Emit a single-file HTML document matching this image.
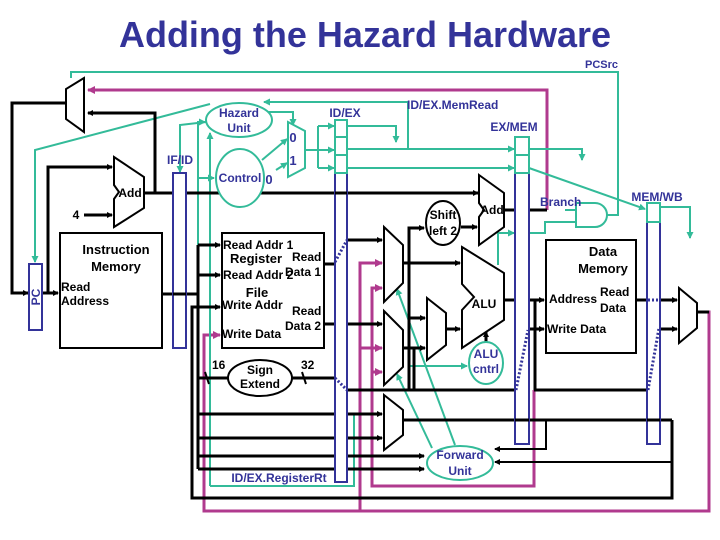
<!DOCTYPE html>
<html><head><meta charset="utf-8"><style>
html,body{margin:0;padding:0;background:#fff}
svg{display:block}
text{font-family:"Liberation Sans",Arial,sans-serif}
.b{fill:#333399;font-weight:bold;font-size:12px}
.k{fill:#000;font-weight:bold;font-size:12px}
.blk{stroke:#000;stroke-width:3;fill:none}
.tl{stroke:#33bb99;stroke-width:2;fill:none}
.mg{stroke:#b03a8e;stroke-width:3;fill:none}
.reg{fill:#fff;stroke:#333399;stroke-width:2}
.dot{stroke:#333399;stroke-width:3;stroke-dasharray:2 2;fill:none}
</style></head><body>
<svg width="720" height="540" viewBox="0 0 720 540" xmlns="http://www.w3.org/2000/svg">
<defs>
<marker id="ak" markerWidth="6" markerHeight="6" refX="5" refY="3" orient="auto" markerUnits="userSpaceOnUse"><path d="M0,0 L6,3 L0,6 z" fill="#000"/></marker>
<marker id="at" markerWidth="7" markerHeight="7" refX="6" refY="3.5" orient="auto" markerUnits="userSpaceOnUse"><path d="M0,0 L7,3.5 L0,7 z" fill="#33bb99"/></marker>
<marker id="am" markerWidth="8" markerHeight="8" refX="7" refY="4" orient="auto" markerUnits="userSpaceOnUse"><path d="M0,0 L8,4 L0,8 z" fill="#b03a8e"/></marker>
</defs>
<text x="365" y="47" text-anchor="middle" style="font-size:36px;font-weight:bold;fill:#333399">Adding the Hazard Hardware</text>
<text class="b" x="585" y="68" style="font-size:11px">PCSrc</text>

<!-- magenta loops -->
<polyline class="mg" points="547,210 547,90 88,90" marker-end="url(#am)"/>
<polyline class="mg" points="697,312 709,312 709,511 204,511 204,335 220,335" marker-end="url(#am)"/>
<polyline class="mg" points="360,511 360,263 382,263" marker-end="url(#am)"/>
<line class="mg" x1="360" y1="348" x2="382" y2="348" marker-end="url(#am)"/>
<polyline class="mg" points="534,390 534,486 372,486 372,288 382,288" marker-end="url(#am)"/>
<line class="mg" x1="372" y1="372" x2="382" y2="372" marker-end="url(#am)"/>

<!-- teal top -->
<polyline class="tl" points="71,78 71,72 618,72 618,215 607,215"/>
<polyline class="tl" points="408,149 408,102 264,102" marker-end="url(#at)"/>
<polyline class="tl" points="210,104 35,150 35,262" marker-end="url(#at)"/>
<polyline class="tl" points="206,122 180,125 180,172" marker-end="url(#at)"/>
<polyline class="tl" points="198,245 198,122 205,122" marker-end="url(#at)"/>
<line class="tl" x1="198" y1="178" x2="214" y2="178" marker-end="url(#at)"/>
<polyline class="tl" points="210,486 210,133" marker-end="url(#at)"/>
<polyline class="tl" points="210,486 354,486 354,414"/>
<polyline class="tl" points="268,112 293,112 293,125" marker-end="url(#at)"/>
<line class="tl" x1="262" y1="160" x2="287" y2="139" marker-end="url(#at)"/>
<line class="tl" x1="276" y1="170" x2="287" y2="163" marker-end="url(#at)"/>
<polyline class="tl" points="305,150 318,150"/>
<line class="tl" x1="318" y1="126" x2="318" y2="168"/>
<line class="tl" x1="318" y1="126" x2="334" y2="126" marker-end="url(#at)"/>
<line class="tl" x1="318" y1="150" x2="334" y2="150" marker-end="url(#at)"/>
<line class="tl" x1="318" y1="168" x2="334" y2="168" marker-end="url(#at)"/>
<polyline class="tl" points="347,126 396,126 396,142" marker-end="url(#at)"/>
<line class="tl" x1="347" y1="149" x2="514" y2="149" marker-end="url(#at)"/>
<line class="tl" x1="347" y1="168" x2="514" y2="168" marker-end="url(#at)"/>
<polyline class="tl" points="529,149 582,149 582,160" marker-end="url(#at)"/>
<line class="tl" x1="529" y1="168" x2="645" y2="209" marker-end="url(#at)"/>
<polyline class="tl" points="660,207 690,207 690,238" marker-end="url(#at)"/>
<line class="tl" x1="565" y1="210" x2="576" y2="210"/>
<polyline class="tl" points="529,233 545,233 545,222 576,222"/>
<polyline class="tl" points="498,265 498,233 514,233" marker-end="url(#at)"/>
<line class="tl" x1="408" y1="366" x2="467" y2="366" marker-end="url(#at)"/>
<line class="tl" x1="455" y1="445" x2="397" y2="289" marker-end="url(#at)"/>
<line class="tl" x1="432" y1="448" x2="397" y2="374" marker-end="url(#at)"/>

<!-- black wiring -->
<polyline class="blk" points="66,103 12,103 12,293 28,293" marker-end="url(#ak)"/>
<line class="blk" x1="43" y1="293" x2="58" y2="293" marker-end="url(#ak)"/>
<polyline class="blk" points="48,293 48,167 112,167" marker-end="url(#ak)"/>
<line class="blk" x1="84" y1="215" x2="112" y2="215" marker-end="url(#ak)"/>
<line class="blk" x1="144" y1="193" x2="478" y2="193" marker-end="url(#ak)"/>
<polyline class="blk" points="155,193 155,113 88,113" marker-end="url(#ak)"/>
<line class="blk" x1="162" y1="294" x2="198" y2="294"/>
<line class="blk" x1="198" y1="245" x2="198" y2="469"/>
<line class="blk" x1="198" y1="245" x2="220" y2="245" marker-end="url(#ak)"/>
<line class="blk" x1="198" y1="275" x2="220" y2="275" marker-end="url(#ak)"/>
<polyline class="blk" points="672,420 672,498 192,498 192,307 220,307" marker-end="url(#ak)"/>
<line class="blk" x1="198" y1="378" x2="228" y2="378"/>
<line class="blk" x1="292" y1="378" x2="335" y2="378"/>
<line class="blk" x1="205" y1="372" x2="209" y2="384" style="stroke-width:2"/>
<line class="blk" x1="302" y1="372" x2="306" y2="384" style="stroke-width:2"/>
<line class="blk" x1="198" y1="414" x2="382" y2="414" marker-end="url(#ak)"/>
<line class="blk" x1="198" y1="438" x2="382" y2="438" marker-end="url(#ak)"/>
<line class="blk" x1="198" y1="456" x2="424" y2="456" marker-end="url(#ak)"/>
<line class="blk" x1="198" y1="469" x2="424" y2="469" marker-end="url(#ak)"/>
<line class="blk" x1="324" y1="264" x2="335" y2="264"/>
<line class="blk" x1="324" y1="324" x2="335" y2="324"/>
<line class="blk" x1="347" y1="240" x2="382" y2="240" marker-end="url(#ak)"/>
<line class="blk" x1="347" y1="324" x2="382" y2="324" marker-end="url(#ak)"/>
<line class="blk" x1="347" y1="390" x2="515" y2="390"/>
<line class="blk" x1="403" y1="263" x2="460" y2="263" marker-end="url(#ak)"/>
<line class="blk" x1="403" y1="348" x2="425" y2="348" marker-end="url(#ak)"/>
<polyline class="blk" points="414,390 414,348"/>
<polyline class="blk" points="409,390 409,228 424,228" marker-end="url(#ak)"/>
<line class="blk" x1="409" y1="318" x2="425" y2="318" marker-end="url(#ak)"/>
<line class="blk" x1="461" y1="227" x2="477" y2="227" marker-end="url(#ak)"/>
<line class="blk" x1="446" y1="329" x2="460" y2="329" marker-end="url(#ak)"/>
<line class="blk" x1="486" y1="344" x2="486" y2="332" marker-end="url(#ak)"/>
<line class="blk" x1="504" y1="210" x2="515" y2="210"/>
<line class="blk" x1="529" y1="210" x2="547" y2="210"/>
<line class="blk" x1="504" y1="300" x2="515" y2="300"/>
<polyline class="blk" points="529,300 544,300" marker-end="url(#ak)"/>
<line class="blk" x1="535" y1="300" x2="535" y2="390"/>
<line class="blk" x1="529" y1="329" x2="544" y2="329" marker-end="url(#ak)"/>
<line class="blk" x1="534" y1="390" x2="648" y2="390"/>
<line class="blk" x1="636" y1="300" x2="647" y2="300"/>
<line class="blk" x1="660" y1="300" x2="677" y2="300" marker-end="url(#ak)"/>
<line class="blk" x1="660" y1="329" x2="677" y2="329" marker-end="url(#ak)"/>
<line class="blk" x1="697" y1="312" x2="709" y2="312"/>
<line class="blk" x1="403" y1="420" x2="672" y2="420"/>
<polyline class="blk" points="546,420 546,449 495,449" marker-end="url(#ak)" style="stroke-width:2"/>
<polyline class="blk" points="672,462 495,462" marker-end="url(#ak)" style="stroke-width:2"/>

<!-- muxes -->
<polygon points="84,78 66,89 66,119 84,132" fill="#fff" stroke="#000" stroke-width="2"/>
<polygon points="288,122 305,131 305,168 288,177" fill="#fff" stroke="#33bb99" stroke-width="2"/>
<polygon points="384,227 403,245 403,283 384,302" fill="#fff" stroke="#000" stroke-width="2"/>
<polygon points="384,311 403,330 403,367 384,385" fill="#fff" stroke="#000" stroke-width="2"/>
<polygon points="427,298 446,313 446,345 427,360" fill="#fff" stroke="#000" stroke-width="2"/>
<polygon points="384,395 403,410 403,435 384,450" fill="#fff" stroke="#000" stroke-width="2"/>
<polygon points="679,288 697,303 697,328 679,343" fill="#fff" stroke="#000" stroke-width="2"/>
<!-- adders / ALU -->
<polygon points="114,157 144,177 144,208 114,227 114,199 119,192 114,185" fill="#fff" stroke="#000" stroke-width="2"/>
<polygon points="479,175 504,193 504,227 479,245 479,217 484,210 479,203" fill="#fff" stroke="#000" stroke-width="2"/>
<polygon points="462,247 504,273 504,320 462,348 462,310 474,297 462,284" fill="#fff" stroke="#000" stroke-width="2"/>
<!-- AND -->
<path d="M576,203 L595,203 A12,12 0 0 1 595,227 L576,227 Z" fill="#fff" stroke="#33bb99" stroke-width="2"/>

<!-- boxes -->
<rect x="60" y="233" width="102" height="115" fill="#fff" stroke="#000" stroke-width="2"/>
<rect x="222" y="233" width="102" height="115" fill="#fff" stroke="#000" stroke-width="2"/>
<rect x="546" y="240" width="90" height="113" fill="#fff" stroke="#000" stroke-width="2"/>
<rect x="29" y="264" width="13" height="66" class="reg"/>

<!-- ellipses -->
<ellipse cx="239" cy="120" rx="33" ry="17" fill="#fff" stroke="#33bb99" stroke-width="2"/>
<ellipse cx="240" cy="178" rx="24" ry="29" fill="#fff" stroke="#33bb99" stroke-width="2"/>
<ellipse cx="260" cy="378" rx="32" ry="18" fill="#fff" stroke="#000" stroke-width="2"/>
<ellipse cx="443" cy="223" rx="17" ry="22" fill="#fff" stroke="#000" stroke-width="2"/>
<ellipse cx="486" cy="363" rx="17" ry="21" fill="#fff" stroke="#33bb99" stroke-width="2"/>
<ellipse cx="460" cy="463" rx="33" ry="17" fill="#fff" stroke="#33bb99" stroke-width="2"/>

<!-- pipeline registers -->
<rect x="173" y="173" width="13" height="175" class="reg"/>
<rect x="335" y="120" width="12" height="362" class="reg"/>
<rect x="335" y="120" width="12" height="17" fill="#fff" stroke="#33bb99" stroke-width="2"/>
<rect x="335" y="137" width="12" height="18" fill="#fff" stroke="#33bb99" stroke-width="2"/>
<rect x="335" y="155" width="12" height="18" fill="#fff" stroke="#33bb99" stroke-width="2"/>
<rect x="515" y="137" width="14" height="307" class="reg"/>
<rect x="515" y="137" width="14" height="18" fill="#fff" stroke="#33bb99" stroke-width="2"/>
<rect x="515" y="155" width="14" height="18" fill="#fff" stroke="#33bb99" stroke-width="2"/>
<rect x="647" y="203" width="13" height="241" class="reg"/>
<rect x="647" y="203" width="13" height="19" fill="#fff" stroke="#33bb99" stroke-width="2"/>
<line class="blk" x1="173" y1="294" x2="186" y2="294"/>
<line class="blk" x1="335" y1="193" x2="347" y2="193"/>
<line class="blk" x1="515" y1="420" x2="529" y2="420"/>
<line class="blk" x1="647" y1="420" x2="660" y2="420"/>
<line class="dot" x1="335" y1="262" x2="347" y2="240"/>
<line class="dot" x1="335" y1="378" x2="347" y2="390"/>
<line class="dot" x1="516" y1="390" x2="528" y2="330"/>
<line class="dot" x1="648" y1="390" x2="659" y2="328"/>
<line class="dot" x1="648" y1="300" x2="659" y2="300"/>

<!-- labels -->
<text class="b" x="239" y="117" text-anchor="middle">Hazard</text>
<text class="b" x="239" y="132" text-anchor="middle">Unit</text>
<text class="b" x="240" y="182" text-anchor="middle">Control</text>
<text class="b" x="293" y="142" text-anchor="middle" style="font-size:13px">0</text>
<text class="b" x="293" y="165" text-anchor="middle" style="font-size:13px">1</text>
<text class="b" x="269" y="184" text-anchor="middle" style="font-size:13px">0</text>
<text class="b" x="345" y="117" text-anchor="middle">ID/EX</text>
<text class="b" x="407" y="109">ID/EX.MemRead</text>
<text class="b" x="514" y="131" text-anchor="middle">EX/MEM</text>
<text class="b" x="657" y="201" text-anchor="middle">MEM/WB</text>
<text class="b" x="180" y="164" text-anchor="middle">IF/ID</text>
<text class="b" x="540" y="206">Branch</text>
<text transform="translate(40,297) rotate(-90)" class="b" text-anchor="middle">PC</text>
<text class="k" x="130" y="197" text-anchor="middle">Add</text>
<text class="k" x="76" y="219" text-anchor="middle">4</text>
<text class="k" x="116" y="254" text-anchor="middle" style="font-size:13px">Instruction</text>
<text class="k" x="116" y="271" text-anchor="middle" style="font-size:13px">Memory</text>
<text class="k" x="61" y="291">Read</text>
<text class="k" x="61" y="305">Address</text>
<text class="k" x="223" y="249">Read Addr 1</text>
<text class="k" x="230" y="263" style="font-size:13px">Register</text>
<text class="k" x="292" y="261">Read</text>
<text class="k" x="223" y="279">Read Addr 2</text>
<text class="k" x="285" y="276">Data 1</text>
<text class="k" x="257" y="297" text-anchor="middle" style="font-size:13px">File</text>
<text class="k" x="222" y="309">Write Addr</text>
<text class="k" x="292" y="315">Read</text>
<text class="k" x="285" y="330">Data 2</text>
<text class="k" x="222" y="338">Write Data</text>
<text class="k" x="212" y="369">16</text>
<text class="k" x="301" y="369">32</text>
<text class="k" x="260" y="374" text-anchor="middle">Sign</text>
<text class="k" x="260" y="388" text-anchor="middle">Extend</text>
<text class="k" x="443" y="219" text-anchor="middle">Shift</text>
<text class="k" x="443" y="235" text-anchor="middle">left 2</text>
<text class="k" x="492" y="214" text-anchor="middle">Add</text>
<text class="k" x="484" y="308" text-anchor="middle">ALU</text>
<text class="b" x="486" y="358" text-anchor="middle">ALU</text>
<text class="b" x="486" y="373" text-anchor="middle">cntrl</text>
<text class="b" x="460" y="459" text-anchor="middle">Forward</text>
<text class="b" x="460" y="475" text-anchor="middle">Unit</text>
<text class="b" x="279" y="482" text-anchor="middle">ID/EX.RegisterRt</text>
<text class="k" x="603" y="256" text-anchor="middle" style="font-size:13px">Data</text>
<text class="k" x="603" y="273" text-anchor="middle" style="font-size:13px">Memory</text>
<text class="k" x="549" y="303">Address</text>
<text class="k" x="600" y="296">Read</text>
<text class="k" x="600" y="312">Data</text>
<text class="k" x="547" y="333">Write Data</text>
</svg>
</body></html>
